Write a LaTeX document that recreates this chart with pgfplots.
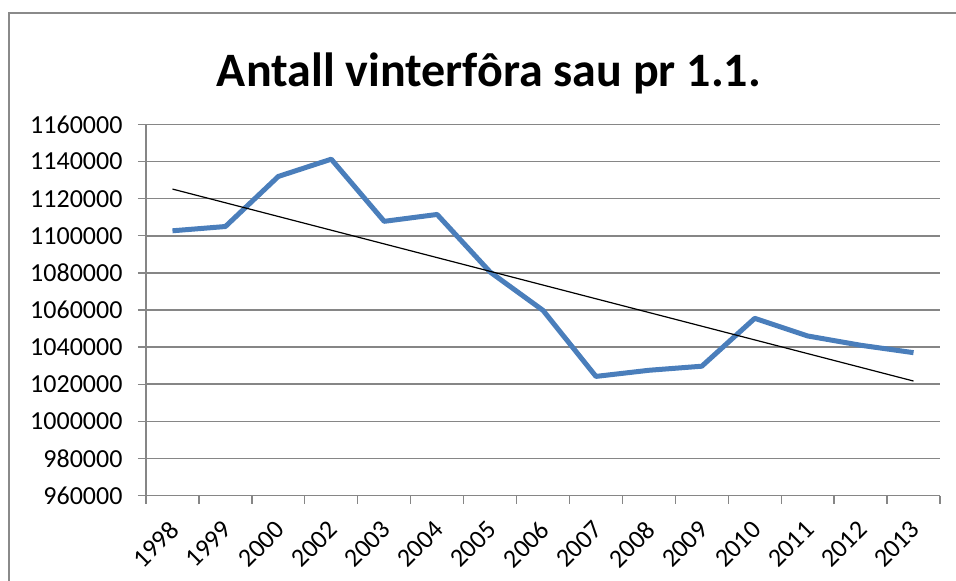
\documentclass[border=0pt]{standalone}
\usepackage{pgfplots}
\pgfplotsset{compat=1.18}
\usepackage{fontspec}
\setmainfont{Carlito}
\definecolor{gridgray}{HTML}{868686}
\definecolor{lineblue}{HTML}{4A7EBB}
\definecolor{framegray}{HTML}{8A8A8A}
\begin{document}
\begin{tikzpicture}[x=1pt,y=1pt]
\path[use as bounding box] (0,0) rectangle (956,581);
\draw[framegray, line width=2.2pt] (9,-5) -- (9,568) -- (962,568);
\node[anchor=base, font=\fontsize{48}{52}\selectfont\bfseries] at (489,494) {Antall vinterfôra sau pr 1.1.};
\begin{axis}[
  at={(146pt,85.5pt)}, anchor=south west,
  scale only axis, width=794pt, height=371pt,
  xmin=-0.5, xmax=14.5, ymin=960000, ymax=1160000,
  axis x line*=bottom, axis y line*=left,
  axis line style={gridgray, line width=1.5pt, -},
  xtick={0,...,14},
  xticklabels={1998,1999,2000,2002,2003,2004,2005,2006,2007,2008,2009,2010,2011,2012,2013},
  minor xtick={-0.5,0.5,...,14.5},
  ytick={960000,980000,...,1160000},
  yticklabels={960000,980000,1000000,1020000,1040000,1060000,1080000,1100000,1120000,1140000,1160000},
  scaled y ticks=false,
  tick align=outside,
  major tick length=8pt, minor tick length=8pt,
  x tick style={draw=none},
  minor x tick style={draw=gridgray, line width=1.3pt},
  y tick style={gridgray, line width=1.3pt},
  ymajorgrids, major grid style={gridgray, line width=1.5pt},
  tick label style={font=\fontsize{26}{30}\selectfont, text=black},
  yticklabel style={xshift=-12pt},
  xticklabel style={xshift=2pt, yshift=-22pt, rotate=45, anchor=east, inner sep=0pt},
  clip=false,
]
\addplot[lineblue, line width=5pt, line join=round] coordinates {
(0,1102700) (1,1105000) (2,1132000) (3,1141300) (4,1107800) (5,1111500)
(6,1080500) (7,1059800) (8,1024200) (9,1027500) (10,1029700) (11,1055500)
(12,1046000) (13,1041000) (14,1037000)};
\addplot[black, line width=1.2pt] coordinates {(0,1125200) (14,1021700)};
\end{axis}
\end{tikzpicture}
\end{document}
